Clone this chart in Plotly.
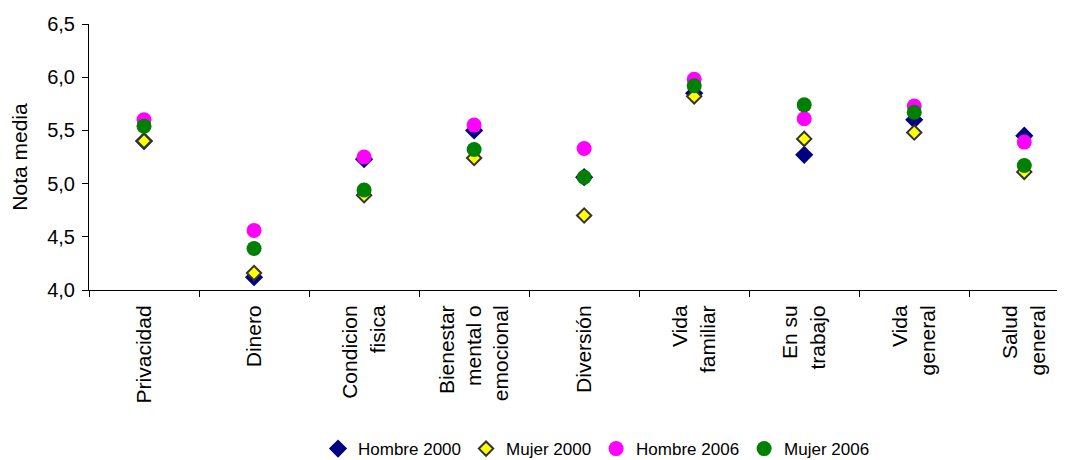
import plotly.graph_objects as go

categories = ["Privacidad", "Dinero", "Condicion<br>fisica", "Bienestar<br>mental o<br>emocional",
              "Diversión", "Vida<br>familiar", "En su<br>trabajo", "Vida<br>general", "Salud<br>general"]
hombre_2000 = [5.40, 4.12, 5.23, 5.50, 5.06, 5.85, 5.27, 5.60, 5.45]
mujer_2000 = [5.40, 4.16, 4.89, 5.24, 4.70, 5.82, 5.42, 5.48, 5.11]
hombre_2006 = [5.60, 4.56, 5.25, 5.55, 5.33, 5.98, 5.61, 5.73, 5.39]
mujer_2006 = [5.54, 4.39, 4.94, 5.32, 5.06, 5.92, 5.74, 5.67, 5.17]
y_ticks = [4.0, 4.5, 5.0, 5.5, 6.0, 6.5]

font_family = "Liberation Sans, Arial, sans-serif"

fig = go.Figure()
fig.add_trace(go.Scatter(x=categories, y=hombre_2000, mode="markers", name="Hombre 2000",
                         marker=dict(symbol="diamond", size=14, color="#000080",
                                     line=dict(width=0))))
fig.add_trace(go.Scatter(x=categories, y=mujer_2000, mode="markers", name="Mujer 2000",
                         marker=dict(symbol="diamond", size=11, color="#FFFF00",
                                     line=dict(width=2, color="#333333"))))
fig.add_trace(go.Scatter(x=categories, y=hombre_2006, mode="markers", name="Hombre 2006",
                         marker=dict(symbol="circle", size=15, color="#FF00FF",
                                     line=dict(width=0))))
fig.add_trace(go.Scatter(x=categories, y=mujer_2006, mode="markers", name="Mujer 2006",
                         marker=dict(symbol="circle", size=15, color="#008000",
                                     line=dict(width=0))))

fig.update_layout(
    width=1057, height=452,
    margin=dict(l=81, r=0, t=16, b=170, autoexpand=False),
    paper_bgcolor="white", plot_bgcolor="white",
    separators=",.",
    font=dict(family=font_family, size=18, color="black"),
    showlegend=True,
    legend=dict(orientation="h", x=0.52, xanchor="center", y=-0.598, yanchor="middle",
                font=dict(size=17), itemwidth=30, tracegroupgap=0,
                bgcolor="rgba(0,0,0,0)"),
)
fig.update_xaxes(
    type="category", range=[-0.5, 8.37],
    showline=True, linecolor="black", linewidth=1,
    ticks="outside", tickson="boundaries", ticklen=6, tickcolor="black",
    tickangle=-90, showgrid=False, zeroline=False,
    tickfont=dict(size=21), automargin=False, ticklabelstandoff=6,
)
fig.update_yaxes(
    range=[4.0, 6.5], tickvals=y_ticks, tickformat=".1f",
    showline=True, linecolor="black", linewidth=1,
    ticks="outside", ticklen=6, tickcolor="black",
    showgrid=False, zeroline=False,
    tickfont=dict(size=20), automargin=False, ticklabelstandoff=3,
    title=dict(text="Nota media", font=dict(size=21), standoff=14),
)

fig.write_html("out.html")
